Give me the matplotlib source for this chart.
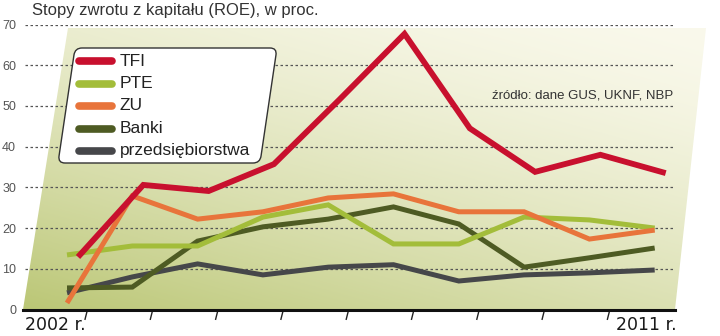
import numpy as np
import matplotlib.pyplot as plt
from matplotlib.patches import Polygon, FancyBboxPatch
from matplotlib.transforms import Affine2D, offset_copy

# --- dane: ROE w proc., 2002-2011 ---
years = list(range(2002, 2012))
tfi = [12.9, 30.6, 29.1, 35.7, 51.5, 67.7, 44.5, 33.8, 38.0, 33.5]
pte = [13.4, 15.6, 15.6, 22.7, 25.7, 16.1, 16.1, 22.7, 22.0, 20.0]
zu = [1.6, 27.9, 22.2, 24.0, 27.4, 28.4, 24.0, 24.0, 17.3, 19.5]
banki = [5.3, 5.5, 16.8, 20.3, 22.2, 25.2, 21.0, 10.4, 12.7, 15.1]
firmy = [4.1, 8.0, 11.2, 8.5, 10.4, 11.0, 7.0, 8.5, 9.0, 9.7]

names = ['TFI', 'PTE', 'ZU', 'Banki', 'przedsiębiorstwa']
colors = ['#c8102e', '#a3bd3a', '#e8743b', '#4e5b23', '#46474a']
series = [tfi, pte, zu, banki, firmy]

plt.rcParams['font.family'] = ['Liberation Sans', 'DejaVu Sans']

fig = plt.figure(figsize=(7.2, 3.36), dpi=100)


def pixel_axes(z):
    # osie w pikselach, (0,0) = lewy górny róg
    a = fig.add_axes([0, 0, 1, 1], zorder=z)
    a.set_xlim(0, 720)
    a.set_ylim(336, 0)
    a.axis('off')
    a.patch.set_alpha(0)
    return a


bg = pixel_axes(0)

# gradient: ciemniejsza oliwka w lewym dolnym rogu, jasny krem w prawym górnym
yy, xx = np.mgrid[0:1:200j, 0:1:400j]
d = (0.6 * yy + 0.4 * (1 - xx)) ** 1.5
light = np.array([250, 249, 236]) / 255
dark = np.array([186, 198, 116]) / 255
img = light * (1 - d[..., None]) + dark * d[..., None]
im = bg.imshow(img, extent=(20, 715, 312, 24), aspect='auto', zorder=0)
clip = Polygon([(23, 309.5), (675, 309.5), (706, 28), (68, 28)],
               closed=True, transform=bg.transData, fc='none', ec='none')
bg.add_patch(clip)
im.set_clip_path(clip)

# wykres
ax = fig.add_axes([23 / 720, 26.5 / 336, 652 / 720, 285 / 336], zorder=1)
ax.patch.set_alpha(0)
x = np.arange(len(years))
ax.set_xlim(-0.674, 9.311)
ax.set_ylim(0, 70)

ax.hlines(range(10, 71, 10), -0.64, 9.28, colors='#555555', lw=0.9,
          linestyles=(0, (2, 2)), zorder=1)

for s in ['top', 'right', 'left']:
    ax.spines[s].set_visible(False)
ax.spines['bottom'].set_linewidth(2.2)
ax.spines['bottom'].set_color('#111111')
ax.spines['bottom'].set_zorder(6)
ax.set_xticks([])
ax.set_yticks(range(0, 71, 10))
ax.tick_params(axis='y', length=0, pad=5, labelsize=9, labelcolor='#555555')

# skośne kreski pod osią X
for i in range(9):
    xt = i + 0.306
    ax.plot([xt, xt - 0.03], [-0.5, -2.4], color='#222222', lw=1.0,
            clip_on=False)

# linie serii, TFI na wierzchu
order = [4, 3, 1, 2, 0]
for k in order:
    tr = ax.transData
    lw = 3.6
    if k == 0:
        tr = offset_copy(ax.transData, fig=fig, x=11, y=0, units='dots')
        lw = 4.2
    ax.plot(x, series[k], color=colors[k], lw=lw, transform=tr,
            solid_joinstyle='miter', solid_capstyle='butt', zorder=3 + order.index(k))

top = pixel_axes(2)

# podpisy lat
top.text(25, 325, '2002 r.', ha='left', va='center', fontsize=12.5,
         color='#1a1a1a', family='DejaVu Sans')
top.text(677, 325, '2011 r.', ha='right', va='center', fontsize=12.5,
         color='#1a1a1a', family='DejaVu Sans')

# tytuł i źródło
top.text(32, 11, 'Stopy zwrotu z kapitału (ROE), w proc.', ha='left', va='center',
         fontsize=12, color='#333333')
top.text(673, 95, 'źródło: dane GUS, UKNF, NBP', ha='right', va='center',
         fontsize=9.5, color='#333333')

# legenda w pochylonej ramce
k = 17 / 115
skew = Affine2D().from_values(1, 0, -k, 1, k * 48, 0)
box = FancyBboxPatch((75, 48), 202, 115, boxstyle='round,pad=0,rounding_size=7',
                     fc='white', ec='#333333', lw=1.0, zorder=10)
box.set_transform(skew + top.transData)
top.add_patch(box)
ys = [61, 83.5, 106, 128.5, 151]
for name, c, yl in zip(names, colors, ys):
    top.plot([79, 112], [yl, yl], color=c, lw=5.5, solid_capstyle='round', zorder=11)
    top.text(120, yl, name, ha='left', va='center', fontsize=12.5, color='#222222',
             zorder=11)

fig.savefig('out.png', dpi=100)
